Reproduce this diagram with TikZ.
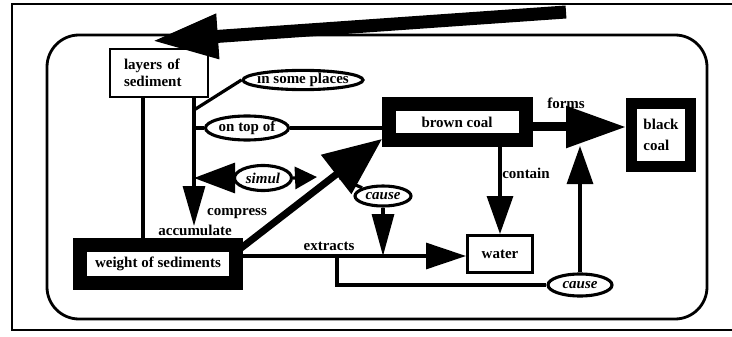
\documentclass[tikz,border=0pt]{standalone}
\usepackage{fontspec}
\setmainfont{Liberation Serif}
\usetikzlibrary{arrows.meta,shapes.geometric}
\begin{document}
\begin{tikzpicture}[x=1pt,y=-1pt,
  txt/.style={font=\fontsize{15}{17}\selectfont\bfseries},
  itxt/.style={font=\fontsize{15}{17}\selectfont\bfseries\itshape},
  lbl/.style={txt,inner sep=0pt},
  box/.style={txt,draw,rectangle,line width=2.8pt,inner sep=0pt,fill=white},
  heavybox/.style={txt,draw,rectangle,line width=14pt,inner sep=0pt,fill=white},
  rel/.style={draw,ellipse,line width=3.1pt,inner sep=0pt,fill=white},
  link/.style={line width=3.2pt},
  bighead/.style 2 args={-{Triangle[length=#1pt,width=#2pt]}},
  frame/.style={line width=2.8pt}
]
\useasboundingbox (0,0) rectangle (732,337);

% outer frame and rounded panel
\draw[frame] (732,4) -- (12,4) -- (12,330) -- (732,330);
\draw[frame,rounded corners=32pt] (47,35) rectangle (707,319);

% concepts
\node[box,minimum width=98pt,minimum height=48pt,text width=70pt,align=left] (layers) at (159,73) {layers of\\sediment};
\node[heavybox,minimum width=156pt,minimum height=38pt] (weight) at (158,264) {weight of sediments};
\node[heavybox,minimum width=137pt,minimum height=36pt] (brown) at (457,122) {brown coal};
\node[heavybox,line width=11pt,minimum width=59pt,minimum height=63pt,align=left,
      font=\fontsize{15}{21}\selectfont\bfseries] (black) at (661,135) {black\\coal};
\node[box,line width=3pt,minimum width=65pt,minimum height=37pt] (water) at (500,254) {water};

% relations
\node[rel,txt,minimum width=120pt,minimum height=18pt] (places) at (303,80) {\makebox[0pt]{in some places}};
\node[rel,txt,minimum width=83pt,minimum height=24pt] (ontop) at (247,128) {\makebox[0pt]{on top of}};
\node[rel,itxt,minimum width=57pt,minimum height=25pt] (simul) at (263,178) {\makebox[0pt]{simul}};
\node[rel,itxt,minimum width=56pt,minimum height=20pt] (causeA) at (383,196) {\makebox[0pt]{cause}};
\node[rel,itxt,minimum width=64pt,minimum height=22pt] (causeB) at (580,285) {\makebox[0pt]{cause}};

% labels on the arcs
\node[lbl] (lforms) at (566,103) {forms};
\node[lbl] (lcontain) at (526,173) {contain};
\node[lbl] (lcompress) at (237,214) {compress};
\node[lbl] (laccum) at (195,230) {accumulate};
\node[lbl] (lextracts) at (329,246) {extracts};

% junction and end points
\coordinate (trunkA) at (143,0);
\coordinate (jplaces) at (194,110);
\coordinate (jontop) at (194,128);
\coordinate (acctip) at (194,226);
\coordinate (simtip) at (317,177);
\coordinate (cmpfoot) at (236,252);
\coordinate (cmptip) at (382,139);
\coordinate (hb) at (340,178);
\coordinate (ey) at (337,256);
\coordinate (fy) at (600,127);
\coordinate (uptip) at (580,146);
\coordinate (feed) at (566,12);
\coordinate (feedtip) at (152,41);

% connectors
\draw[line width=13pt,bighead={66}{42}] (feed) -- (feedtip);
\draw[link] (layers.south -| trunkA) -- (weight.north -| trunkA);
\draw[link,bighead={40}{22}] (layers.south -| acctip) -- (acctip);
\draw[link] (jplaces) -- (places.west);
\draw[link] (jontop) -- (ontop.west);
\draw[link] (ontop.east) -- (brown.west |- ontop.east);
\draw[link,bighead={41}{30}] (simul.west) -- (simul.west -| acctip);
\draw[link,bighead={22}{22}] (simul.east) -- (simtip);
\draw[line width=7pt,bighead={58}{48}] (cmpfoot) -- (cmptip);
\draw[link] (hb) -- (causeA.north west);
\draw[link,bighead={42}{22}] (causeA.south) -- (causeA.south |- ey);
\draw[link,bighead={40}{26}] (weight.east |- ey) -- (water.west |- ey);
\draw[link] (ey) |- (causeB.west);
\draw[link,bighead={38}{26}] (brown.south -| water.north) -- (water.north);
\draw[line width=9pt,bighead={60}{40}] (brown.east |- fy) -- (black.west |- fy);
\draw[link,bighead={38}{26}] (causeB.north) -- (uptip);
\end{tikzpicture}
\end{document}
